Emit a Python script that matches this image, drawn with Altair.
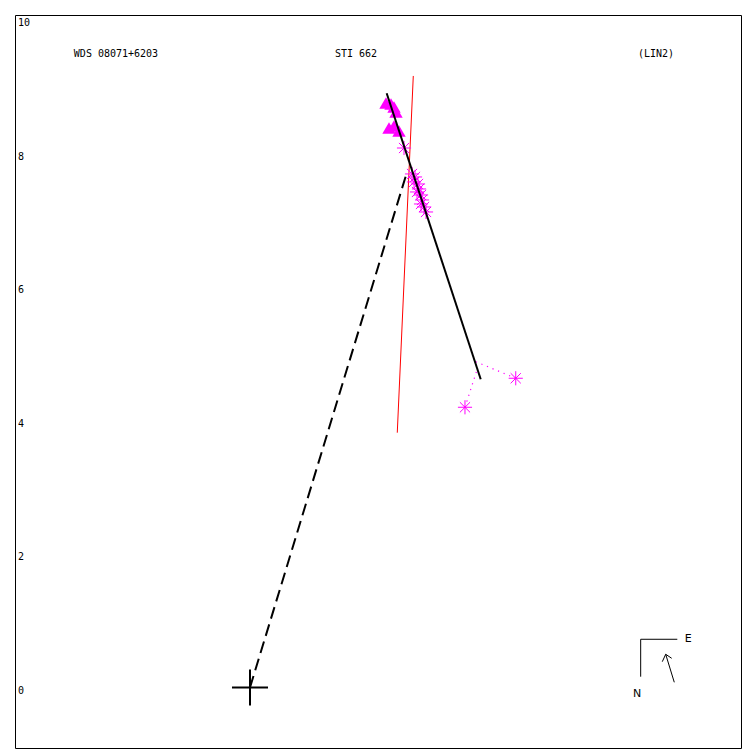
import altair as alt
import pandas as pd

# ---- data (plot units, equal aspect) ----
XDOM = [-3.523, 7.361]
YDOM = [-0.907, 10.082]

ytick_values = [0, 2, 4, 6, 8, 10]
ytick_labels = ["0", "2", "4", "6", "8", "10"]

titles = ["WDS 08071+6203", "STI 662", "(LIN2)"]
titles_x = [-2.009, 1.589, 6.087]
titles_y = [9.50, 9.50, 9.50]

# red line
red_x = [2.448]; red_y = [9.168]; red_x2 = [2.208]; red_y2 = [3.820]
# orbit (solid black)
orb_x = [2.049]; orb_y = [8.909]; orb_x2 = [3.459]; orb_y2 = [4.621]
# dashed line from primary
dash_x = [0.0]; dash_y = [0.0]; dash_x2 = [2.354]; dash_y2 = [7.729]

# triangles
tri_x = [2.039, 2.114, 2.159, 2.189, 2.084, 2.159, 2.234]
tri_y = [8.763, 8.748, 8.703, 8.628, 8.388, 8.418, 8.343]

# asterisks
ast_x = [2.309, 2.429, 2.474, 2.459, 2.519, 2.534, 2.504, 2.564, 2.579, 2.564, 2.609, 2.639, 3.223, 3.984]
ast_y = [8.088, 7.699, 7.654, 7.579, 7.549, 7.474, 7.429, 7.384, 7.309, 7.249, 7.204, 7.129, 4.201, 4.636]

# O-C residual lines
oc_x = [3.223, 3.984]; oc_y = [4.201, 4.636]
oc_x2 = [3.405, 3.376]; oc_y2 = [4.769, 4.888]

# primary cross
cross_x = [-0.27, 0.0]; cross_y = [0.0, -0.27]
cross_x2 = [0.27, 0.0]; cross_y2 = [0.0, 0.27]

# compass
comp_x = [5.857, 5.857, 6.361, 6.232, 6.232]
comp_y = [0.723, 0.723, 0.078, 0.498, 0.498]
comp_x2 = [6.406, 5.857, 6.232, 6.181, 6.322]
comp_y2 = [0.723, 0.162, 0.498, 0.387, 0.438]
comp_lab = ["E", "N"]
comp_lab_x = [6.571, 5.802]
comp_lab_y = [0.723, -0.10]

xs = alt.Scale(domain=XDOM, nice=False, zero=False)
ys = alt.Scale(domain=YDOM, nice=False, zero=False)

def segs(x, y, x2, y2):
    return pd.DataFrame({"x": x, "y": y, "x2": x2, "y2": y2})

def rule(df, **kw):
    return alt.Chart(df).mark_rule(**kw).encode(
        x=alt.X("x:Q", scale=xs, axis=None),
        y=alt.Y("y:Q", scale=ys, axis=None),
        x2="x2:Q", y2="y2:Q")

red = rule(segs(red_x, red_y, red_x2, red_y2), color="#FF0000", strokeWidth=1)
orb = rule(segs(orb_x, orb_y, orb_x2, orb_y2), color="black", strokeWidth=2)
dsh = rule(segs(dash_x, dash_y, dash_x2, dash_y2), color="black", strokeWidth=2, strokeDash=[12, 6])
oc = rule(segs(oc_x, oc_y, oc_x2, oc_y2), color="#FF00FF", strokeWidth=1.2, strokeDash=[1.2, 4.8])
cross = rule(segs(cross_x, cross_y, cross_x2, cross_y2), color="black", strokeWidth=2)
comp = rule(segs(comp_x, comp_y, comp_x2, comp_y2), color="black", strokeWidth=1)

tri = alt.Chart(pd.DataFrame({"x": tri_x, "y": tri_y})).mark_point(
    shape="triangle-up", filled=True, size=180, color="#FF00FF", opacity=1).encode(
    x=alt.X("x:Q", scale=xs, axis=None), y=alt.Y("y:Q", scale=ys, axis=None))

ASTER = "M-1,0L1,0M0,-1L0,1M-0.72,-0.72L0.72,0.72M-0.72,0.72L0.72,-0.72"
ast = alt.Chart(pd.DataFrame({"x": ast_x, "y": ast_y})).mark_point(
    shape=ASTER, filled=False, size=200, color="#FF00FF", strokeWidth=1, opacity=1).encode(
    x=alt.X("x:Q", scale=xs, axis=None), y=alt.Y("y:Q", scale=ys, axis=None))

ttl = alt.Chart(pd.DataFrame({"x": titles_x, "y": titles_y, "t": titles})).mark_text(
    font="DejaVu Sans Mono", fontSize=10, color="black", align="center", baseline="middle").encode(
    x=alt.X("x:Q", scale=xs, axis=None), y=alt.Y("y:Q", scale=ys, axis=None), text="t:N")

ylab = alt.Chart(pd.DataFrame({"v": ytick_values, "t": ytick_labels})).mark_text(
    font="DejaVu Sans Mono", fontSize=10, color="black", align="left", baseline="top", dx=3, dy=-2).encode(
    x=alt.value(0), y=alt.Y("v:Q", scale=ys, axis=None), text="t:N")

clab = alt.Chart(pd.DataFrame({"x": comp_lab_x, "y": comp_lab_y, "t": comp_lab})).mark_text(
    font="DejaVu Sans", fontSize=11, color="black", align="center", baseline="middle").encode(
    x=alt.X("x:Q", scale=xs, axis=None), y=alt.Y("y:Q", scale=ys, axis=None), text="t:N")

chart = alt.layer(red, dsh, tri, ast, oc, orb, cross, comp, ttl, ylab, clab).properties(
    width=726, height=733,
    padding={"left": 7, "top": 7, "right": 1, "bottom": 1},
    autosize=alt.AutoSizeParams(type="none"),
).configure_view(stroke="black", strokeWidth=1)

chart.save("out.html", embed_options={"renderer": "svg", "actions": False})
